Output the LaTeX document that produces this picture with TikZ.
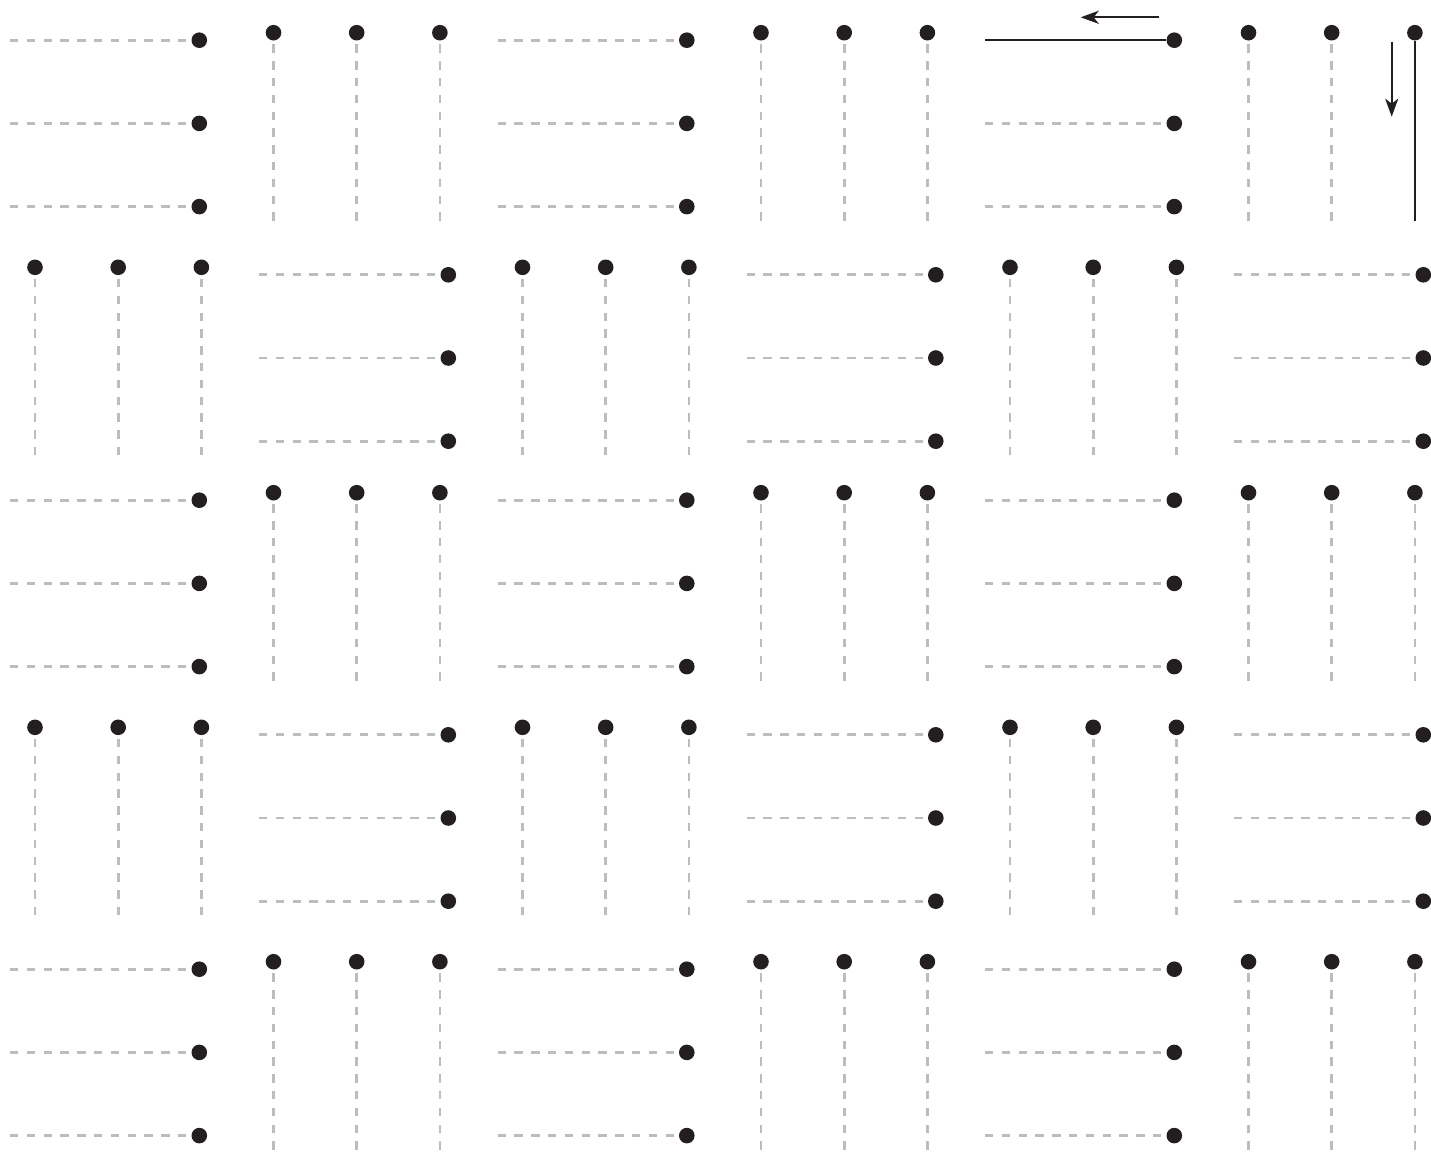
\documentclass[tikz,border=0pt]{standalone}
\usepackage{tikz}
\usetikzlibrary{arrows.meta}
\definecolor{beadblack}{RGB}{35,31,32}
\definecolor{weftgray}{RGB}{188,189,192}

% three horizontal strands, beads on the right end
\newcommand{\hblock}[4]{%
    \foreach \j in {0,1,2} {
        \node[bead] (#1-\j) at (#2, #3+83.2*\j) {};
        \coordinate (#1-\j-s) at (#2-189.3, #3+83.2*\j);
    }
    \draw[#4] (#1-0-s) -- (#1-0);
    \draw[weft] (#1-1-s) -- (#1-1);
    \draw[weft] (#1-2-s) -- (#1-2);
}
% three vertical strands, beads on the top end
\newcommand{\vblock}[4]{%
    \foreach \j in {0,1,2} {
        \node[bead] (#1-\j) at (#2+83.2*\j, #3) {};
        \coordinate (#1-\j-e) at (#2+83.2*\j, #3+188);
    }
    \draw[weft] (#1-0-e) -- (#1-0);
    \draw[weft] (#1-1-e) -- (#1-1);
    \draw[#4] (#1-2-e) -- (#1-2);
}

\begin{document}
\begin{tikzpicture}[x=0.5pt, y=-0.5pt,
    bead/.style={circle, fill=beadblack, inner sep=0pt, minimum size=7.8pt},
    weft/.style={weftgray, line width=1.4pt, dash pattern=on 4.2pt off 4.2pt},
    thread/.style={beadblack, line width=1.25pt},
    flow/.style={-{Stealth[length=9pt, width=6.5pt, inset=2.5pt]}, beadblack, line width=1.1pt}]
    \useasboundingbox (0,0) rectangle (1431,1152);

    % Rows 1, 3, 5: horizontal block first
    \foreach \r/\y/\s in {1/32.7/thread, 3/492.7/weft, 5/961.7/weft} {
        \foreach \k in {0,1,2} {
            \ifnum\k=2 \edef\lastline{\s}\else\def\lastline{weft}\fi
            \hblock{h\r\k}{199.3+487.5*\k}{\y+7.5}{\lastline}
            \vblock{v\r\k}{273.5+487.5*\k}{\y}{\lastline}
        }
    }

    % Rows 2, 4: vertical block first
    \foreach \r/\y in {2/267.3, 4/727.3} {
        \foreach \k in {0,1,2} {
            \vblock{v\r\k}{35+487.5*\k}{\y}{weft}
            \hblock{h\r\k}{448.3+487.5*\k}{\y+7.5}{weft}
        }
    }

    % Direction arrows
    \coordinate (left-tail) at (1159.3,17.3);
    \coordinate (left-head) at (1080.7,17.3);
    \draw[flow] (left-tail) -- (left-head);
    \coordinate (down-tail) at (1391.7,41.7);
    \coordinate (down-head) at (1391.7,116.7);
    \draw[flow] (down-tail) -- (down-head);
\end{tikzpicture}
\end{document}
